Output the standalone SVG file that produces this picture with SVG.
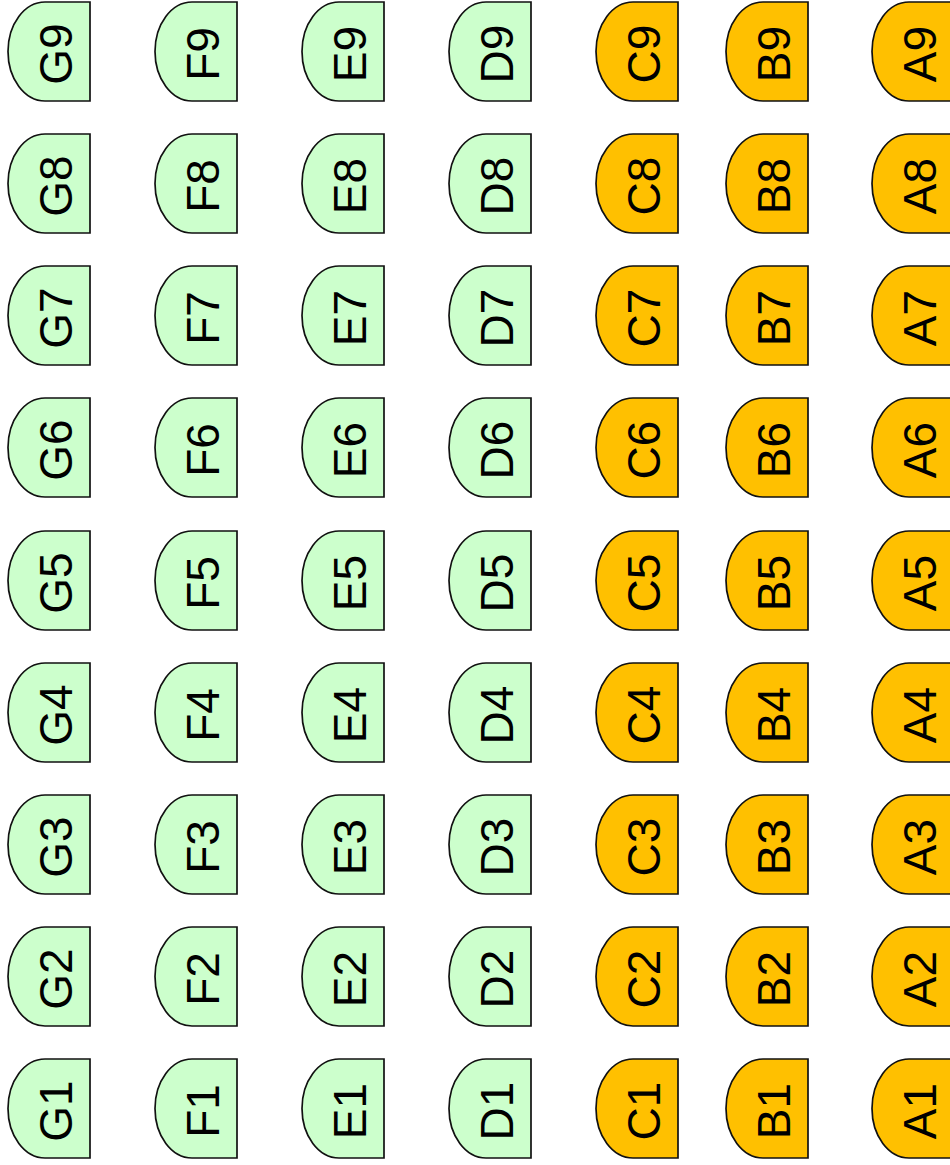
<svg xmlns="http://www.w3.org/2000/svg" width="950" height="1165" viewBox="0 0 950 1165">
<style>
.g{fill:#ccffcc}
.o{fill:#ffc000}
.s{stroke:#111;stroke-width:1.7}
.n text{font-family:"Liberation Sans",Arial,sans-serif;font-size:46px;fill:#000;text-anchor:middle}
</style>
<defs>
<path id="d" d="M82,0 H37 A37,49.5 0 0 0 37,99 H82 Z"/>
</defs>
<rect width="950" height="1165" fill="#fff"/>
<g id="connectors"></g>
<g id="nodes">
<g id="G9" class="n" transform="translate(8,2)"><use href="#d" class="g s"/><text transform="translate(64,52) rotate(-90)">G9</text></g>
<g id="G8" class="n" transform="translate(8,134)"><use href="#d" class="g s"/><text transform="translate(64,52) rotate(-90)">G8</text></g>
<g id="G7" class="n" transform="translate(8,266)"><use href="#d" class="g s"/><text transform="translate(64,52) rotate(-90)">G7</text></g>
<g id="G6" class="n" transform="translate(8,398)"><use href="#d" class="g s"/><text transform="translate(64,52) rotate(-90)">G6</text></g>
<g id="G5" class="n" transform="translate(8,531)"><use href="#d" class="g s"/><text transform="translate(64,52) rotate(-90)">G5</text></g>
<g id="G4" class="n" transform="translate(8,663)"><use href="#d" class="g s"/><text transform="translate(64,52) rotate(-90)">G4</text></g>
<g id="G3" class="n" transform="translate(8,795)"><use href="#d" class="g s"/><text transform="translate(64,52) rotate(-90)">G3</text></g>
<g id="G2" class="n" transform="translate(8,927)"><use href="#d" class="g s"/><text transform="translate(64,52) rotate(-90)">G2</text></g>
<g id="G1" class="n" transform="translate(8,1059)"><use href="#d" class="g s"/><text transform="translate(64,52) rotate(-90)">G1</text></g>

<g id="F9" class="n" transform="translate(155,2)"><use href="#d" class="g s"/><text transform="translate(64,52) rotate(-90)">F9</text></g>
<g id="F8" class="n" transform="translate(155,134)"><use href="#d" class="g s"/><text transform="translate(64,52) rotate(-90)">F8</text></g>
<g id="F7" class="n" transform="translate(155,266)"><use href="#d" class="g s"/><text transform="translate(64,52) rotate(-90)">F7</text></g>
<g id="F6" class="n" transform="translate(155,398)"><use href="#d" class="g s"/><text transform="translate(64,52) rotate(-90)">F6</text></g>
<g id="F5" class="n" transform="translate(155,531)"><use href="#d" class="g s"/><text transform="translate(64,52) rotate(-90)">F5</text></g>
<g id="F4" class="n" transform="translate(155,663)"><use href="#d" class="g s"/><text transform="translate(64,52) rotate(-90)">F4</text></g>
<g id="F3" class="n" transform="translate(155,795)"><use href="#d" class="g s"/><text transform="translate(64,52) rotate(-90)">F3</text></g>
<g id="F2" class="n" transform="translate(155,927)"><use href="#d" class="g s"/><text transform="translate(64,52) rotate(-90)">F2</text></g>
<g id="F1" class="n" transform="translate(155,1059)"><use href="#d" class="g s"/><text transform="translate(64,52) rotate(-90)">F1</text></g>

<g id="E9" class="n" transform="translate(302,2)"><use href="#d" class="g s"/><text transform="translate(64,52) rotate(-90)">E9</text></g>
<g id="E8" class="n" transform="translate(302,134)"><use href="#d" class="g s"/><text transform="translate(64,52) rotate(-90)">E8</text></g>
<g id="E7" class="n" transform="translate(302,266)"><use href="#d" class="g s"/><text transform="translate(64,52) rotate(-90)">E7</text></g>
<g id="E6" class="n" transform="translate(302,398)"><use href="#d" class="g s"/><text transform="translate(64,52) rotate(-90)">E6</text></g>
<g id="E5" class="n" transform="translate(302,531)"><use href="#d" class="g s"/><text transform="translate(64,52) rotate(-90)">E5</text></g>
<g id="E4" class="n" transform="translate(302,663)"><use href="#d" class="g s"/><text transform="translate(64,52) rotate(-90)">E4</text></g>
<g id="E3" class="n" transform="translate(302,795)"><use href="#d" class="g s"/><text transform="translate(64,52) rotate(-90)">E3</text></g>
<g id="E2" class="n" transform="translate(302,927)"><use href="#d" class="g s"/><text transform="translate(64,52) rotate(-90)">E2</text></g>
<g id="E1" class="n" transform="translate(302,1059)"><use href="#d" class="g s"/><text transform="translate(64,52) rotate(-90)">E1</text></g>

<g id="D9" class="n" transform="translate(449,2)"><use href="#d" class="g s"/><text transform="translate(64,52) rotate(-90)">D9</text></g>
<g id="D8" class="n" transform="translate(449,134)"><use href="#d" class="g s"/><text transform="translate(64,52) rotate(-90)">D8</text></g>
<g id="D7" class="n" transform="translate(449,266)"><use href="#d" class="g s"/><text transform="translate(64,52) rotate(-90)">D7</text></g>
<g id="D6" class="n" transform="translate(449,398)"><use href="#d" class="g s"/><text transform="translate(64,52) rotate(-90)">D6</text></g>
<g id="D5" class="n" transform="translate(449,531)"><use href="#d" class="g s"/><text transform="translate(64,52) rotate(-90)">D5</text></g>
<g id="D4" class="n" transform="translate(449,663)"><use href="#d" class="g s"/><text transform="translate(64,52) rotate(-90)">D4</text></g>
<g id="D3" class="n" transform="translate(449,795)"><use href="#d" class="g s"/><text transform="translate(64,52) rotate(-90)">D3</text></g>
<g id="D2" class="n" transform="translate(449,927)"><use href="#d" class="g s"/><text transform="translate(64,52) rotate(-90)">D2</text></g>
<g id="D1" class="n" transform="translate(449,1059)"><use href="#d" class="g s"/><text transform="translate(64,52) rotate(-90)">D1</text></g>

<g id="C9" class="n" transform="translate(596,2)"><use href="#d" class="o s"/><text transform="translate(64,52) rotate(-90)">C9</text></g>
<g id="C8" class="n" transform="translate(596,134)"><use href="#d" class="o s"/><text transform="translate(64,52) rotate(-90)">C8</text></g>
<g id="C7" class="n" transform="translate(596,266)"><use href="#d" class="o s"/><text transform="translate(64,52) rotate(-90)">C7</text></g>
<g id="C6" class="n" transform="translate(596,398)"><use href="#d" class="o s"/><text transform="translate(64,52) rotate(-90)">C6</text></g>
<g id="C5" class="n" transform="translate(596,531)"><use href="#d" class="o s"/><text transform="translate(64,52) rotate(-90)">C5</text></g>
<g id="C4" class="n" transform="translate(596,663)"><use href="#d" class="o s"/><text transform="translate(64,52) rotate(-90)">C4</text></g>
<g id="C3" class="n" transform="translate(596,795)"><use href="#d" class="o s"/><text transform="translate(64,52) rotate(-90)">C3</text></g>
<g id="C2" class="n" transform="translate(596,927)"><use href="#d" class="o s"/><text transform="translate(64,52) rotate(-90)">C2</text></g>
<g id="C1" class="n" transform="translate(596,1059)"><use href="#d" class="o s"/><text transform="translate(64,52) rotate(-90)">C1</text></g>

<g id="B9" class="n" transform="translate(726,2)"><use href="#d" class="o s"/><text transform="translate(64,52) rotate(-90)">B9</text></g>
<g id="B8" class="n" transform="translate(726,134)"><use href="#d" class="o s"/><text transform="translate(64,52) rotate(-90)">B8</text></g>
<g id="B7" class="n" transform="translate(726,266)"><use href="#d" class="o s"/><text transform="translate(64,52) rotate(-90)">B7</text></g>
<g id="B6" class="n" transform="translate(726,398)"><use href="#d" class="o s"/><text transform="translate(64,52) rotate(-90)">B6</text></g>
<g id="B5" class="n" transform="translate(726,531)"><use href="#d" class="o s"/><text transform="translate(64,52) rotate(-90)">B5</text></g>
<g id="B4" class="n" transform="translate(726,663)"><use href="#d" class="o s"/><text transform="translate(64,52) rotate(-90)">B4</text></g>
<g id="B3" class="n" transform="translate(726,795)"><use href="#d" class="o s"/><text transform="translate(64,52) rotate(-90)">B3</text></g>
<g id="B2" class="n" transform="translate(726,927)"><use href="#d" class="o s"/><text transform="translate(64,52) rotate(-90)">B2</text></g>
<g id="B1" class="n" transform="translate(726,1059)"><use href="#d" class="o s"/><text transform="translate(64,52) rotate(-90)">B1</text></g>

<g id="A9" class="n" transform="translate(872,2)"><use href="#d" class="o s"/><text transform="translate(64,52) rotate(-90)">A9</text></g>
<g id="A8" class="n" transform="translate(872,134)"><use href="#d" class="o s"/><text transform="translate(64,52) rotate(-90)">A8</text></g>
<g id="A7" class="n" transform="translate(872,266)"><use href="#d" class="o s"/><text transform="translate(64,52) rotate(-90)">A7</text></g>
<g id="A6" class="n" transform="translate(872,398)"><use href="#d" class="o s"/><text transform="translate(64,52) rotate(-90)">A6</text></g>
<g id="A5" class="n" transform="translate(872,531)"><use href="#d" class="o s"/><text transform="translate(64,52) rotate(-90)">A5</text></g>
<g id="A4" class="n" transform="translate(872,663)"><use href="#d" class="o s"/><text transform="translate(64,52) rotate(-90)">A4</text></g>
<g id="A3" class="n" transform="translate(872,795)"><use href="#d" class="o s"/><text transform="translate(64,52) rotate(-90)">A3</text></g>
<g id="A2" class="n" transform="translate(872,927)"><use href="#d" class="o s"/><text transform="translate(64,52) rotate(-90)">A2</text></g>
<g id="A1" class="n" transform="translate(872,1059)"><use href="#d" class="o s"/><text transform="translate(64,52) rotate(-90)">A1</text></g>
</g>
</svg>
